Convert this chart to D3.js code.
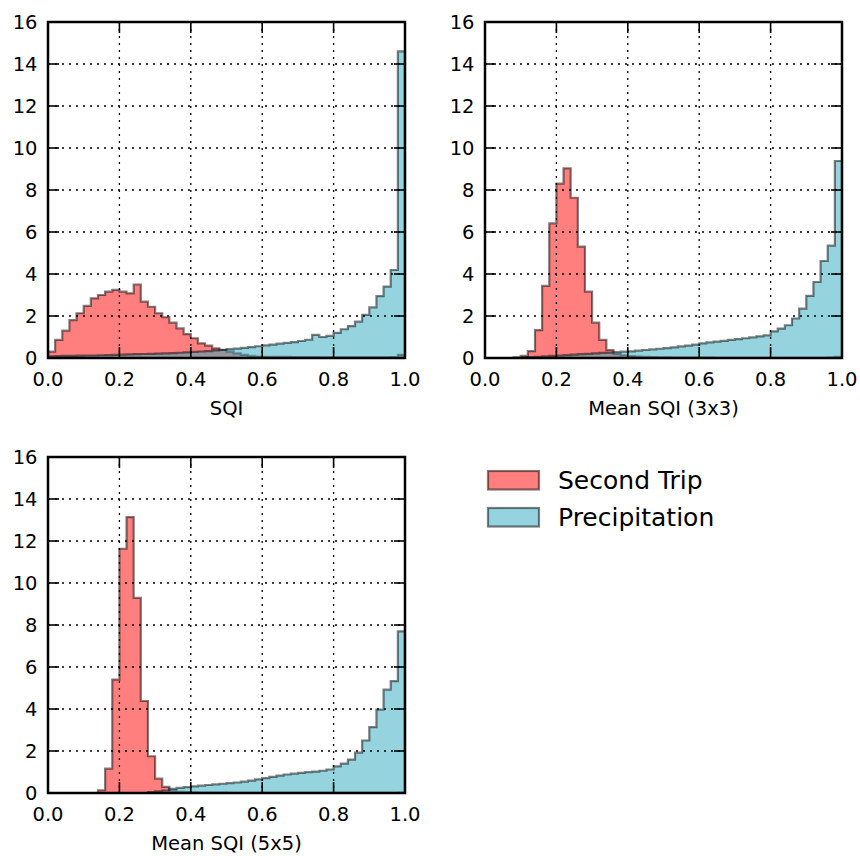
<!DOCTYPE html>
<html><head><meta charset="utf-8">
<script src="https://cdn.jsdelivr.net/npm/d3@7"></script>
<style>
body{margin:0;background:#fff}
text{font-family:"DejaVu Sans",sans-serif;fill:#000}
</style>
</head><body>
<svg id="chart" width="860" height="856"></svg>
<script>
// ---- data ----
const xTicks = [0, 0.2, 0.4, 0.6, 0.8, 1.0];
const xTickLabels = ["0.0", "0.2", "0.4", "0.6", "0.8", "1.0"];
const yTicks = [0, 2, 4, 6, 8, 10, 12, 14, 16];
const binCount = 50; // bins of width 0.02 from 0 to 1
const seriesNames = ["Second Trip", "Precipitation"];
const axisTitles = ["SQI", "Mean SQI (3x3)", "Mean SQI (5x5)"];

// Panel 1: SQI
const sqiTrip = [0.30,0.86,1.30,1.80,2.13,2.48,2.84,3.00,3.16,3.24,
                 3.16,3.08,3.50,2.68,2.44,2.13,1.94,1.68,1.41,1.14,
                 0.94,0.70,0.59,0.46,0.38,0.30,0.22,0.15,0.10,0.07,
                 0.06,0.05,0.05,0.05,0.04,0.04,0.04,0.04,0.03,0.03,
                 0.03,0.03,0.03,0.03,0.03,0.03,0.03,0.03,0.04,0.15];
const sqiPrecip = [0.08,0.09,0.10,0.10,0.11,0.12,0.12,0.13,0.14,0.15,
                   0.16,0.17,0.18,0.19,0.20,0.21,0.22,0.23,0.25,0.27,
                   0.29,0.31,0.33,0.36,0.39,0.42,0.45,0.48,0.52,0.56,
                   0.60,0.64,0.68,0.72,0.76,0.81,0.87,1.10,1.00,1.05,
                   1.20,1.37,1.52,1.73,2.05,2.41,2.95,3.40,4.19,14.60];

// Panel 2: Mean SQI (3x3)
const sqi3Trip = [0,0,0,0,0.03,0.10,0.33,1.33,3.43,6.41,
                  8.30,9.03,7.63,5.30,3.16,1.68,0.86,0.38,0.20,0.13,
                  0.09,0.07,0.05,0.04,0.03,0.03,0.02,0.02,0.02,0.02,
                  0.02,0.02,0.01,0.01,0.01,0.01,0.01,0.01,0.01,0.01,
                  0.01,0.01,0.01,0.01,0.01,0.01,0.01,0.01,0.02,0.05];
const sqi3Precip = [0,0,0,0,0,0.02,0.04,0.06,0.08,0.10,
                    0.12,0.14,0.16,0.18,0.20,0.22,0.24,0.26,0.28,0.30,
                    0.32,0.35,0.38,0.41,0.44,0.47,0.51,0.55,0.59,0.64,
                    0.70,0.74,0.78,0.82,0.86,0.90,0.94,0.98,1.03,1.08,
                    1.27,1.40,1.56,1.88,2.35,2.96,3.62,4.62,5.35,9.38];

// Panel 3: Mean SQI (5x5)
const sqi5Trip = [0,0,0,0,0,0,0,0.13,1.16,5.40,
                  11.63,13.14,9.29,4.38,1.75,0.68,0.29,0.12,0.06,0.04,
                  0.03,0.02,0.02,0.02,0.02,0.01,0.01,0.01,0.01,0.01,
                  0.01,0.01,0.01,0.01,0.01,0.01,0.01,0.01,0.01,0.01,
                  0.01,0.01,0.01,0.01,0.01,0.01,0.01,0.01,0.01,0.02];
const sqi5Precip = [0,0,0,0,0,0,0,0,0,0,
                    0,0,0,0,0.04,0.08,0.12,0.20,0.24,0.28,
                    0.32,0.35,0.38,0.41,0.44,0.47,0.50,0.54,0.59,0.65,
                    0.71,0.77,0.83,0.88,0.92,0.96,0.99,1.02,1.06,1.12,
                    1.27,1.40,1.59,1.92,2.50,3.14,3.97,4.92,5.33,7.70];

// ---- layout / style ----
const W = 357, H = 336;
const FS = 19.5;
const panels = [
  {left: 48,  top: 22,  title: axisTitles[0], trip: sqiTrip,  precip: sqiPrecip},
  {left: 485, top: 22,  title: axisTitles[1], trip: sqi3Trip, precip: sqi3Precip},
  {left: 48,  top: 457, title: axisTitles[2], trip: sqi5Trip, precip: sqi5Precip}
];
const fills = ["rgba(255,0,0,0.5)", "rgba(44,170,192,0.5)"];
const edge = "rgba(0,0,0,0.5)";

const svg = d3.select("#chart");
const x = d3.scaleLinear().domain([0, 1]).range([0, W]);
const y = d3.scaleLinear().domain([0, 16]).range([H, 0]);
const binX = d3.scaleLinear().domain([0, binCount]).range([0, 1]);

function stepPoints(vals) {
  const pts = [[binX(0), 0]];
  vals.forEach((v, i) => { pts.push([binX(i), v]); pts.push([binX(i + 1), v]); });
  pts.push([binX(vals.length), 0]);
  return pts;
}
const line = d3.line().x(d => x(d[0])).y(d => y(d[1]));

panels.forEach((p, pi) => {
  const g = svg.append("g").attr("transform", `translate(${p.left},${p.top})`);
  const cid = "clip" + pi;
  g.append("clipPath").attr("id", cid).append("rect")
    .attr("x", 0).attr("y", 0).attr("width", W).attr("height", H);
  const plot = g.append("g").attr("clip-path", `url(#${cid})`);

  [p.trip, p.precip].forEach((vals, si) => {
    plot.append("path")
      .attr("d", line(stepPoints(vals)) + "Z")
      .attr("fill", fills[si])
      .attr("stroke", edge)
      .attr("stroke-width", 2.2)
      .attr("stroke-linejoin", "miter");
  });

  // grid (drawn above patches)
  const grid = g.append("g").attr("stroke", "#000").attr("stroke-width", 1.3)
    .attr("stroke-dasharray", "2,5").attr("fill", "none");
  xTicks.forEach(t => grid.append("line")
    .attr("x1", x(t)).attr("x2", x(t)).attr("y1", 0).attr("y2", H));
  yTicks.forEach(t => grid.append("line")
    .attr("x1", 0).attr("x2", W).attr("y1", y(t)).attr("y2", y(t)));

  // ticks inside on all four sides
  const tk = g.append("g").attr("stroke", "#000").attr("stroke-width", 1.6);
  const TL = 11;
  xTicks.forEach(t => {
    tk.append("line").attr("x1", x(t)).attr("x2", x(t)).attr("y1", H).attr("y2", H - TL);
    tk.append("line").attr("x1", x(t)).attr("x2", x(t)).attr("y1", 0).attr("y2", TL);
  });
  yTicks.forEach(t => {
    tk.append("line").attr("x1", 0).attr("x2", TL).attr("y1", y(t)).attr("y2", y(t));
    tk.append("line").attr("x1", W).attr("x2", W - TL).attr("y1", y(t)).attr("y2", y(t));
  });

  // frame
  g.append("rect").attr("x", 0).attr("y", 0).attr("width", W).attr("height", H)
    .attr("fill", "none").attr("stroke", "#000").attr("stroke-width", 2.5);

  // tick labels
  xTicks.forEach((t, i) => g.append("text")
    .attr("x", x(t)).attr("y", H + 27.5).attr("text-anchor", "middle")
    .attr("font-size", FS).text(xTickLabels[i]));
  yTicks.forEach(t => g.append("text")
    .attr("x", -10.5).attr("y", y(t) + 7.1).attr("text-anchor", "end")
    .attr("font-size", FS).text(String(t)));

  // axis title
  g.append("text").attr("x", W / 2).attr("y", H + 57).attr("text-anchor", "middle")
    .attr("font-size", FS).text(p.title);
});

// legend
const lg = svg.append("g");
const legY = [471, 508];
seriesNames.forEach((name, i) => {
  lg.append("rect").attr("x", 488).attr("y", legY[i]).attr("width", 51).attr("height", 18.5)
    .attr("fill", fills[i]).attr("stroke", edge).attr("stroke-width", 2.2);
  lg.append("text").attr("x", 558).attr("y", legY[i] + 9.25 + 9)
    .attr("font-size", 25).text(name);
});
</script>
</body></html>
